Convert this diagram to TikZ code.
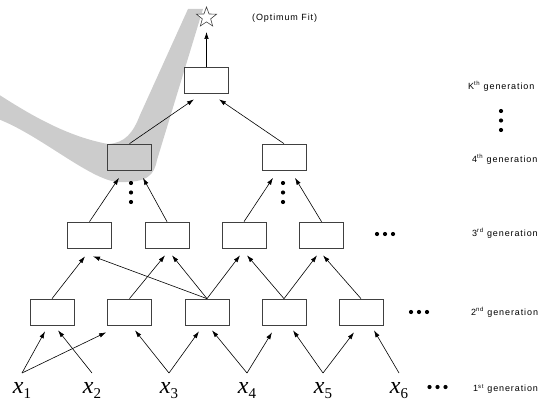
\documentclass[tikz,border=0pt]{standalone}
\usepackage{fontspec}
\usepackage{xcolor}
\usepackage{tikz}
\usetikzlibrary{arrows.meta,shapes.geometric}
\setmainfont{Liberation Sans}
\newfontfamily\genfont{Liberation Sans}[LetterSpace=10]
\newfontfamily\varfont{Liberation Serif}
\definecolor{bandGrey}{HTML}{CCCCCC}
\definecolor{boxLine}{HTML}{404040}
\newcommand{\xsub}[1]{x\raisebox{-5pt}{\upshape\fontsize{15}{15}\selectfont #1}}
\tikzset{
  genbox/.style={rectangle, draw=boxLine, line width=0.7pt, minimum width=44pt, minimum height=26pt, inner sep=0pt},
  beststar/.style={star, star points=5, star point ratio=2.4, draw=boxLine, fill=white, line width=0.6pt, minimum size=21pt, inner sep=0pt},
  evoarrow/.style={-{Latex[length=7pt,width=4.5pt]}, line width=0.6pt, draw=black},
  xlabel/.style={font=\varfont\itshape\fontsize{24}{24}\selectfont, inner sep=0pt, outer ysep=9pt, anchor=north},
  genlabel/.style={font=\genfont\fontsize{9}{10}\selectfont, anchor=west, inner sep=0pt},
}

\begin{document}
\begin{tikzpicture}[x=1pt,y=-1pt]
  \useasboundingbox (0,0) rectangle (543,401);

  % Grey band: path of the best fit
  \fill[bandGrey] (-2,119) .. controls (40,135) and (90,180) .. (118,182)
    .. controls (148,183) and (154,175) .. (157,160)
    -- (203,9) -- (188,9) -- (140,115)
    .. controls (133,133) and (125,143) .. (108,144)
    .. controls (70,137) and (35,118) .. (-2,94) -- cycle;

  % Inputs: 1st generation
  \node[xlabel] (x1) at (22,373) {\xsub{1}};
  \node[xlabel] (x2) at (92,373) {\xsub{2}};
  \node[xlabel] (x3) at (169,373) {\xsub{3}};
  \node[xlabel] (x4) at (247,373) {\xsub{4}};
  \node[xlabel] (x5) at (323,373) {\xsub{5}};
  \node[xlabel] (x6) at (399,373) {\xsub{6}};

  % 2nd generation
  \node[genbox] (b21) at (52,312) {};
  \node[genbox] (b22) at (129.5,312) {};
  \node[genbox] (b23) at (207,312) {};
  \node[genbox] (b24) at (284,312) {};
  \node[genbox] (b25) at (361,312) {};

  % 3rd generation
  \node[genbox] (b31) at (89.5,235) {};
  \node[genbox] (b32) at (167,235) {};
  \node[genbox] (b33) at (244,235) {};
  \node[genbox] (b34) at (321.5,235) {};

  % 4th generation
  \node[genbox] (b41) at (129.5,157) {};
  \node[genbox] (b42) at (284,157) {};

  % Kth generation and optimum
  \node[genbox] (bk) at (206.5,80) {};
  \node[beststar] (best) at (206.5,17.5) {};
  \node[genlabel] (opt) at (252,18) {(Optimum Fit)};

  % Generation labels
  \node[genlabel] (lk) at (468,86) {K\textsuperscript{th} generation};
  \node[genlabel] (l4) at (472,159) {4\textsuperscript{th} generation};
  \node[genlabel] (l3) at (472,233) {3\textsuperscript{rd} generation};
  \node[genlabel] (l2) at (471,312) {2\textsuperscript{nd} generation};
  \node[genlabel] (l1) at (473,389) {1\textsuperscript{st} generation};

  % Dots
  \foreach \px/\py in {377/234, 411/312, 429.5/387}
    \foreach \k in {0,1,2}
      \fill (\px+8*\k,\py) circle (2.1pt);
  \foreach \px/\py in {131/183, 283/183, 501/111}
    \foreach \k in {0,1,2}
      \fill (\px,\py+9.5*\k) circle (2.1pt);

  % Connections: 1st -> 2nd
  \draw[evoarrow] (x1.north) -- ([xshift=-7pt,yshift=-6pt]b21.south);
  \draw[evoarrow] (x2.north) -- ([xshift=6pt,yshift=-5pt]b21.south);
  \draw[evoarrow] (x1.north) -- ([xshift=-1pt,yshift=-7pt]b22.south west);
  \draw[evoarrow] (x3.north) -- ([xshift=5.5pt,yshift=-5pt]b22.south);
  \draw[evoarrow] (x3.north) -- ([xshift=-8pt,yshift=-6pt]b23.south);
  \draw[evoarrow] (x4.north) -- ([xshift=5pt,yshift=-5pt]b23.south);
  \draw[evoarrow] (x4.north) -- ([xshift=-12pt,yshift=-7pt]b24.south);
  \draw[evoarrow] (x5.north) -- ([xshift=9pt,yshift=-5pt]b24.south);
  \draw[evoarrow] (x5.north) -- ([xshift=-7pt,yshift=-7pt]b25.south);
  \draw[evoarrow] (x6.north) -- ([xshift=13pt,yshift=-5pt]b25.south);

  % Connections: 2nd -> 3rd
  \draw[evoarrow] (b21.north) -- ([xshift=-4.5pt,yshift=-8pt]b31.south);
  \draw[evoarrow] (b23.north) -- ([xshift=3.5pt,yshift=-8pt]b31.south);
  \draw[evoarrow] (b22.north) -- ([xshift=-2pt,yshift=-7pt]b32.south);
  \draw[evoarrow] (b23.north) -- ([xshift=5pt,yshift=-7pt]b32.south);
  \draw[evoarrow] (b23.north) -- ([xshift=-4pt,yshift=-7pt]b33.south);
  \draw[evoarrow] (b24.north) -- ([xshift=3pt,yshift=-7pt]b33.south);
  \draw[evoarrow] (b24.north) -- ([xshift=-4.5pt,yshift=-7pt]b34.south);
  \draw[evoarrow] (b25.north) -- ([xshift=1.5pt,yshift=-7pt]b34.south);

  % Connections: 3rd -> 4th
  \draw[evoarrow] (b31.north) -- ([xshift=-10.5pt,yshift=-7.5pt]b41.south);
  \draw[evoarrow] (b32.north) -- ([xshift=13.5pt,yshift=-7.5pt]b41.south);
  \draw[evoarrow] (b33.north) -- ([xshift=-11pt,yshift=-7.5pt]b42.south);
  \draw[evoarrow] (b34.north) -- ([xshift=11pt,yshift=-7.5pt]b42.south);

  % Connections: 4th -> Kth -> optimum
  \draw[evoarrow] (b41.north) -- ([xshift=-12.5pt,yshift=-6pt]bk.south);
  \draw[evoarrow] (b42.north) -- ([xshift=12.5pt,yshift=-6pt]bk.south);
  \draw[evoarrow] (bk.north) -- ([yshift=-14.5pt]best.center);
\end{tikzpicture}
\end{document}
